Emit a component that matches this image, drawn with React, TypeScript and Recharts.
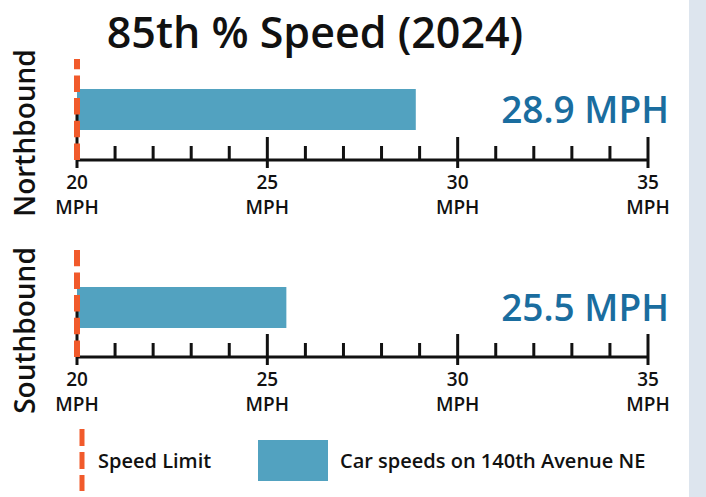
import { BarChart, Bar, XAxis, YAxis, ReferenceLine } from "recharts";

const TITLE = "85th % Speed (2024)";
const DIRECTIONS = ["Northbound", "Southbound"];
const SPEEDS_85TH = [28.9, 25.5];
const SPEED_LIMIT = 20;
const AXIS_DOMAIN = [20, 35];
const AXIS_TICKS = [20, 21, 22, 23, 24, 25, 26, 27, 28, 29, 30, 31, 32, 33, 34, 35];
const MAJOR_TICKS = [20, 25, 30, 35];
const UNIT = "MPH";
const LEGEND_LIMIT = "Speed Limit";
const LEGEND_SPEEDS = "Car speeds on 140th Avenue NE";

const FONT = "'Open Sans', 'Noto Sans', sans-serif";
const BAR_COLOR = "#52a2c0";
const LIMIT_COLOR = "#f15a2b";
const VALUE_COLOR = "#1a6d9f";
const INK = "#111";
const STRIP_COLOR = "#dde5ee";

// panel placement: chart top, chart height, top margin (plot bottom = top + height - 70)
const PANELS = [
  { top: 0, height: 230, marginTop: 59 },
  { top: 240, height: 187, marginTop: 10 },
];

const SpeedTick = (props: any) => {
  const { x, y, payload } = props;
  const v = payload.value;
  const major = MAJOR_TICKS.includes(v);
  const up = v === AXIS_DOMAIN[0] ? 62 : major ? 23 : 14;
  return (
    <g>
      <line x1={x} x2={x} y1={y - up} y2={major ? y + 8 : y} stroke={INK} strokeWidth={3} />
      {major && (
        <>
          <text x={x} y={y + 29} textAnchor="middle" fontSize={19} fontWeight={600} fill={INK} fontFamily={FONT}>
            {v}
          </text>
          <text x={x} y={y + 54} textAnchor="middle" fontSize={19} fontWeight={600} fill={INK} fontFamily={FONT}>
            {UNIT}
          </text>
        </>
      )}
    </g>
  );
};

const DirectionTick = (props: any) => {
  const { y, payload, index } = props;
  const cy = y + (index === 0 ? 23.5 : 21);
  return (
    <text
      x={35}
      y={cy}
      textAnchor="middle"
      transform={`rotate(-90, 35, ${cy})`}
      fontSize={28}
      fontWeight={600}
      fill={INK}
      fontFamily={FONT}
    >
      {payload.value}
    </text>
  );
};

const renderValue = (props: any) => {
  const { y, height, value } = props;
  return (
    <text
      x={669}
      y={y + height / 2 + 13}
      textAnchor="end"
      fontSize={37}
      fontWeight={600}
      fill={VALUE_COLOR}
      fontFamily={FONT}
    >
      {`${value} ${UNIT}`}
    </text>
  );
};

const Panel = ({ index }: { index: number }) => {
  const p = PANELS[index];
  const data = [{ direction: DIRECTIONS[index], speed: SPEEDS_85TH[index] }];
  const margin = { top: p.marginTop, right: 58, bottom: 0, left: 0 };
  const padding = index === 1 ? { top: 7, bottom: 0 } : { top: 0, bottom: 0 };
  return (
    <>
      <div style={{ position: "absolute", left: 0, top: p.top }}>
        <BarChart width={706} height={p.height} data={data} layout="vertical" margin={margin}>
          <XAxis
            type="number"
            domain={AXIS_DOMAIN}
            ticks={AXIS_TICKS}
            interval={0}
            allowDataOverflow
            height={70}
            tickSize={0}
            tickMargin={0}
            tickLine={false}
            axisLine={{ stroke: INK, strokeWidth: 3 }}
            tick={<SpeedTick />}
          />
          <YAxis
            type="category"
            dataKey="direction"
            width={77}
            axisLine={false}
            tickLine={false}
            tick={<DirectionTick index={index} />}
            padding={padding}
          />
          <Bar dataKey="speed" fill={BAR_COLOR} barSize={41} isAnimationActive={false} label={renderValue} />
        </BarChart>
      </div>
      {/* speed limit drawn in its own layer so the dashes sit on top of the bar */}
      <div style={{ position: "absolute", left: 0, top: p.top }}>
        <BarChart width={706} height={p.height} data={data} layout="vertical" margin={margin}>
          <XAxis
            type="number"
            domain={AXIS_DOMAIN}
            ticks={AXIS_TICKS}
            allowDataOverflow
            height={70}
            tick={false}
            tickLine={false}
            axisLine={false}
          />
          <YAxis
            type="category"
            dataKey="direction"
            width={77}
            padding={padding}
            tick={false}
            tickLine={false}
            axisLine={false}
          />
          <ReferenceLine x={SPEED_LIMIT} stroke={LIMIT_COLOR} strokeWidth={6} strokeDasharray="16.5 6.2" />
        </BarChart>
      </div>
    </>
  );
};

export default function App() {
  return (
    <div
      style={{
        position: "absolute",
        left: 0,
        top: 0,
        width: 706,
        height: 497,
        background: "#fff",
        overflow: "hidden",
      }}
    >
      <div style={{ position: "absolute", left: 689, top: 0, width: 17, height: 497, background: STRIP_COLOR }} />
      <Panel index={0} />
      <Panel index={1} />
      <svg width={706} height={497} style={{ position: "absolute", left: 0, top: 0, pointerEvents: "none" }}>
        <text x={315} y={48} textAnchor="middle" fontSize={43} fontWeight={600} fill={INK} fontFamily={FONT}>
          {TITLE}
        </text>
        <line x1={82} x2={82} y1={429} y2={491} stroke={LIMIT_COLOR} strokeWidth={5} strokeDasharray="17 6" />
        <text x={98} y={468} fontSize={20} fontWeight={600} fill={INK} fontFamily={FONT}>
          {LEGEND_LIMIT}
        </text>
        <rect x={258} y={440} width={70} height={41} fill={BAR_COLOR} />
        <text x={340} y={468} fontSize={20} fontWeight={600} fill={INK} fontFamily={FONT}>
          {LEGEND_SPEEDS}
        </text>
      </svg>
    </div>
  );
}
